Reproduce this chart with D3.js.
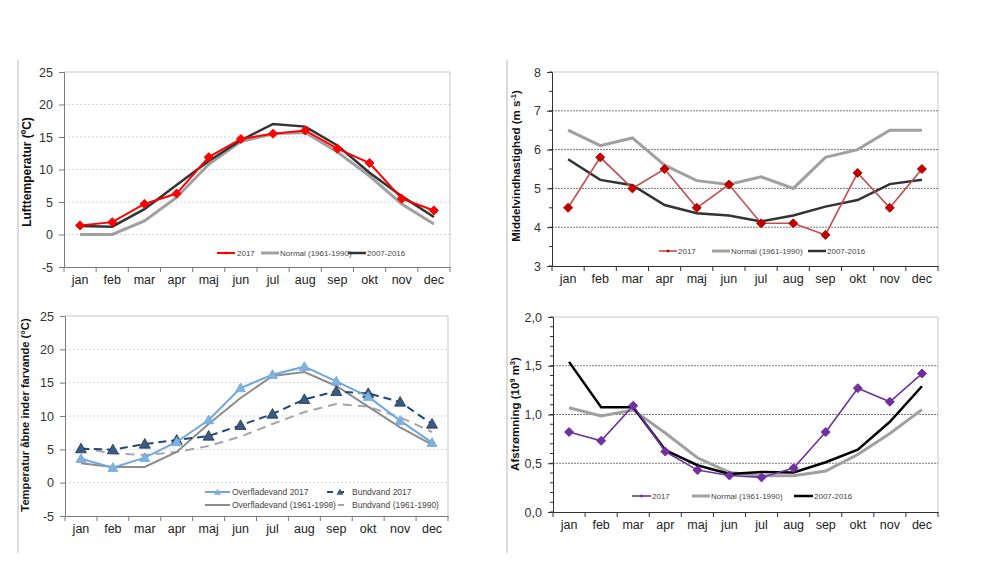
<!DOCTYPE html>
<html><head><meta charset="utf-8">
<script src="https://cdn.jsdelivr.net/npm/d3@7"></script>
<style>body{margin:0;background:#fff}svg{display:block;font-family:"Liberation Sans",Arial,sans-serif}</style>
</head><body>
<svg id="c" width="1000" height="563"></svg>
<script>
const months = ["jan","feb","mar","apr","maj","jun","jul","aug","sep","okt","nov","dec"];

// Panel 1: Lufttemperatur
const air2017   = [1.4,1.9,4.7,6.3,11.9,14.7,15.5,16.0,13.2,11.0,5.5,3.7];
const airNormal = [0.0,0.0,2.1,5.7,10.8,14.3,15.5,15.7,12.7,9.0,4.7,1.6];
const air0716   = [1.3,1.2,3.9,7.6,11.3,14.5,17.0,16.6,13.7,9.5,5.9,2.7];
const airTicks  = [-5,0,5,10,15,20,25];

// Panel 2: Middelvindhastighed
const wind2017   = [4.5,5.8,5.0,5.5,4.5,5.1,4.1,4.1,3.8,5.4,4.5,5.5];
const windNormal = [6.5,6.1,6.3,5.6,5.2,5.1,5.3,5.0,5.8,6.0,6.5,6.5];
const wind0716   = [5.75,5.22,5.08,4.57,4.36,4.30,4.15,4.30,4.53,4.70,5.11,5.22];
const windTicks  = [3,4,5,6,7,8];

// Panel 3: Temperatur åbne inder farvande
const surf2017   = [3.6,2.25,3.75,6.1,9.4,14.2,16.2,17.4,15.2,12.9,9.3,6.0];
const surfNormal = [2.9,2.35,2.35,4.6,8.8,12.7,16.0,16.6,14.5,11.4,8.3,5.7];
const bot2017    = [5.1,4.95,5.8,6.4,7.0,8.6,10.3,12.5,13.7,13.4,12.1,8.8];
const botNormal  = [5.2,4.4,4.15,4.6,5.5,6.9,8.8,10.6,11.8,11.4,9.8,7.6];
const seaTicks   = [-5,0,5,10,15,20,25];

// Panel 4: Afstrømning
const run2017   = [0.82,0.73,1.09,0.62,0.43,0.375,0.355,0.45,0.82,1.27,1.13,1.42];
const runNormal = [1.07,0.985,1.045,0.81,0.556,0.406,0.372,0.372,0.42,0.59,0.805,1.05];
const run0716   = [1.54,1.075,1.075,0.635,0.48,0.39,0.41,0.405,0.51,0.64,0.925,1.29];
const runTicks  = [0,0.5,1.0,1.5,2.0];

const svg = d3.select("#c");

[[18,60,553],[507,60,553]].forEach(([x,y1,y2])=>{
  svg.append("line").attr("x1",x).attr("x2",x).attr("y1",y1).attr("y2",y2)
    .attr("stroke","#b8b8b8").attr("stroke-width",1);
});

function panel(o){
  const g = svg.append("g");
  const x = d3.scaleBand().domain(months).range([o.l,o.r]);
  const y = d3.scaleLinear().domain(o.domain).range([o.b,o.t]);
  g.append("line").attr("x1",o.l).attr("x2",o.r).attr("y1",o.t).attr("y2",o.t).attr("stroke","#c8c8c8");
  g.append("line").attr("x1",o.r).attr("x2",o.r).attr("y1",o.t).attr("y2",o.b).attr("stroke","#c8c8c8");
  o.ticks.filter(v=>v!==o.domain[0] && v!==o.domain[1]).forEach(v=>{
    g.append("line").attr("x1",o.l).attr("x2",o.r).attr("y1",y(v)).attr("y2",y(v))
      .attr("stroke",o.gridColor).attr("stroke-width",1).attr("stroke-dasharray",o.gridDash);
  });
  if(o.minor){
    d3.range(o.domain[0],o.domain[1]+1e-9,o.minor).forEach(v=>{
      g.append("line").attr("x1",o.l-3).attr("x2",o.l).attr("y1",y(v)).attr("y2",y(v)).attr("stroke",o.axisColor);
    });
  }
  const ya = d3.axisLeft(y).tickValues(o.ticks).tickSize(5).tickPadding(6).tickFormat(o.fmt);
  const yg = g.append("g").attr("transform",`translate(${o.l},0)`).call(ya);
  yg.select(".domain").attr("stroke",o.axisColor);
  yg.selectAll(".tick line").attr("stroke",o.axisColor);
  yg.selectAll("text").attr("font-size",12.5).attr("fill","#333").attr("font-family","Liberation Sans, Arial");
  const xa = d3.axisBottom(x).tickSize(0).tickPadding(o.xPad);
  const xg = g.append("g").attr("transform",`translate(0,${o.b})`).call(xa);
  xg.select(".domain").attr("stroke",o.axisColor);
  xg.selectAll("text").attr("font-size",12.5).attr("fill","#222").attr("font-family","Liberation Sans, Arial");
  months.forEach((m)=>{
    const xx = x(m);
    g.append("line").attr("x1",xx).attr("x2",xx).attr("y1",o.b).attr("y2",o.b+5).attr("stroke",o.axisColor);
  });
  g.append("line").attr("x1",o.r).attr("x2",o.r).attr("y1",o.b).attr("y2",o.b+5).attr("stroke",o.axisColor);
  const lab = g.append("text").attr("transform",`translate(${o.labX},${o.labY}) rotate(-90)`)
    .attr("text-anchor","middle").attr("font-size",o.labFs||11.5).attr("font-weight","bold").attr("fill","#111");
  o.label.forEach(p=>{
    const t = lab.append("tspan").text(p.t);
    if(p.sup){ t.attr("baseline-shift","super").attr("font-size",7.5); }
  });
  const cx = m=>x(m)+x.bandwidth()/2;
  o.series.forEach(s=>{
    const line = d3.line().x((d,i)=>cx(months[i])).y(d=>y(d));
    g.append("path").datum(s.values).attr("d",line).attr("fill","none")
      .attr("stroke",s.color).attr("stroke-width",s.width)
      .attr("stroke-dasharray",s.dash||null).attr("stroke-linejoin","miter");
    if(s.marker){
      s.values.forEach((v,i)=>{
        const px=cx(months[i]), py=y(v);
        if(s.marker==="diamond"){
          const r=s.msize||5;
          g.append("path").attr("d",`M${px},${py-r}L${px+r},${py}L${px},${py+r}L${px-r},${py}Z`)
            .attr("fill",s.mfill).attr("stroke",s.mfill);
        } else {
          const r=s.msize||5.5;
          g.append("path").attr("d",`M${px},${py-r}L${px+r},${py+r*0.75}L${px-r},${py+r*0.75}Z`)
            .attr("fill",s.mfill).attr("stroke",s.mstroke||s.mfill).attr("stroke-width",0.8);
        }
      });
    }
  });
  o.legend.forEach((it)=>{
    const s = o.series[it.s];
    g.append("line").attr("x1",it.x1).attr("x2",it.x2).attr("y1",it.y).attr("y2",it.y)
      .attr("stroke",s.color).attr("stroke-width",Math.min(s.width,3)).attr("stroke-dasharray",s.dash?"6,5":null);
    if(s.marker){
      const px=(it.x1+it.x2)/2+(it.off||0), py=it.y, r=s.marker==="diamond"?1.8:3.5;
      if(s.marker==="diamond") g.append("path").attr("d",`M${px},${py-r}L${px+r},${py}L${px},${py+r}L${px-r},${py}Z`).attr("fill",s.mfill);
      else g.append("path").attr("d",`M${px},${py-r}L${px+r},${py+r*0.75}L${px-r},${py+r*0.75}Z`).attr("fill",s.mfill);
    }
    g.append("text").attr("x",it.tx).attr("y",it.y+3).attr("font-size",it.fs||8).attr("fill","#444")
      .attr("font-family","Liberation Sans, Arial").text(it.text);
  });
}

const intFmt = d=>String(d);

panel({
  l:64,r:450,t:72,b:267,domain:[-5,25],ticks:airTicks,fmt:intFmt,
  gridColor:"#d4d4d4",gridDash:"2,2",axisColor:"#7a7a7a",xPad:8,
  labX:31,labY:172,labFs:12,label:[{t:"Lufttemperatur (ºC)"}],
  series:[
    {values:airNormal,color:"#a0a0a0",width:3},
    {values:air0716,color:"#333333",width:2.5},
    {values:air2017,color:"#ff0000",width:2,marker:"diamond",mfill:"#ff0000",msize:4.5}
  ],
  legend:[
    {s:2,x1:217,x2:235,y:253,tx:237,text:"2017"},
    {s:0,x1:261,x2:279,y:253,tx:280,text:"Normal (1961-1990)"},
    {s:1,x1:348,x2:366,y:253,tx:367,text:"2007-2016"}
  ]
});

panel({
  l:552,r:938,t:72,b:266,domain:[3,8],ticks:windTicks,fmt:intFmt,minor:0.5,
  gridColor:"#777",gridDash:"2,1",axisColor:"#333",xPad:8,
  labX:520,labY:166,label:[{t:"Middelvindhastighed (m s"},{t:"-1",sup:true},{t:")"}],
  series:[
    {values:windNormal,color:"#a0a0a0",width:3},
    {values:wind0716,color:"#333333",width:2.5},
    {values:wind2017,color:"#c0504d",width:1.6,marker:"diamond",mfill:"#c00000",msize:4.5}
  ],
  legend:[
    {s:2,x1:659,x2:677,y:251,tx:678,text:"2017"},
    {s:0,x1:712,x2:730,y:251,tx:731,text:"Normal (1961-1990)"},
    {s:1,x1:808,x2:826,y:251,tx:827,text:"2007-2016"}
  ]
});

panel({
  l:65,r:448,t:316,b:516,domain:[-5,25],ticks:seaTicks,fmt:intFmt,
  gridColor:"#d4d4d4",gridDash:"2,2",axisColor:"#7a7a7a",xPad:8,
  labX:29,labY:415,labFs:11.2,label:[{t:"Temperatur åbne inder farvande (°C)"}],
  series:[
    {values:botNormal,color:"#a6a6a6",width:2,dash:"9,6"},
    {values:surfNormal,color:"#8c8c8c",width:2},
    {values:bot2017,color:"#1f497d",width:2,dash:"8,5",marker:"tri",mfill:"#3b5a80",mstroke:"#1f3550",msize:5.5},
    {values:surf2017,color:"#6fa8dc",width:2,marker:"tri",mfill:"#7fb2e0",mstroke:"#6fa8dc",msize:5}
  ],
  legend:[
    {s:3,x1:205,x2:230,y:492,tx:232,text:"Overfladevand 2017",fs:8.5},
    {s:2,x1:327,x2:345,y:492,tx:352,text:"Bundvand 2017",fs:8.5,off:4},
    {s:1,x1:205,x2:230,y:505,tx:232,text:"Overfladevand (1961-1990)",fs:8.5},
    {s:0,x1:327,x2:345,y:505,tx:352,text:"Bundvand (1961-1990)",fs:8.5}
  ]
});

panel({
  l:553,r:938,t:317,b:512,domain:[0,2],ticks:runTicks,fmt:d=>d3.format(".1f")(d).replace(".",","),minor:0.1,
  gridColor:"#777",gridDash:"2,1",axisColor:"#333",xPad:8,
  labX:519,labY:414,label:[{t:"Afstrømning (10"},{t:"9",sup:true},{t:" m"},{t:"3",sup:true},{t:")"}],
  series:[
    {values:runNormal,color:"#a0a0a0",width:3},
    {values:run0716,color:"#000000",width:2.5},
    {values:run2017,color:"#7030a0",width:1.6,marker:"diamond",mfill:"#7030a0",msize:4.5}
  ],
  legend:[
    {s:2,x1:632,x2:651,y:496,tx:652,text:"2017"},
    {s:0,x1:692,x2:710,y:496,tx:711,text:"Normal (1961-1990)"},
    {s:1,x1:794,x2:813,y:496,tx:814,text:"2007-2016"}
  ]
});
</script>
</body></html>
